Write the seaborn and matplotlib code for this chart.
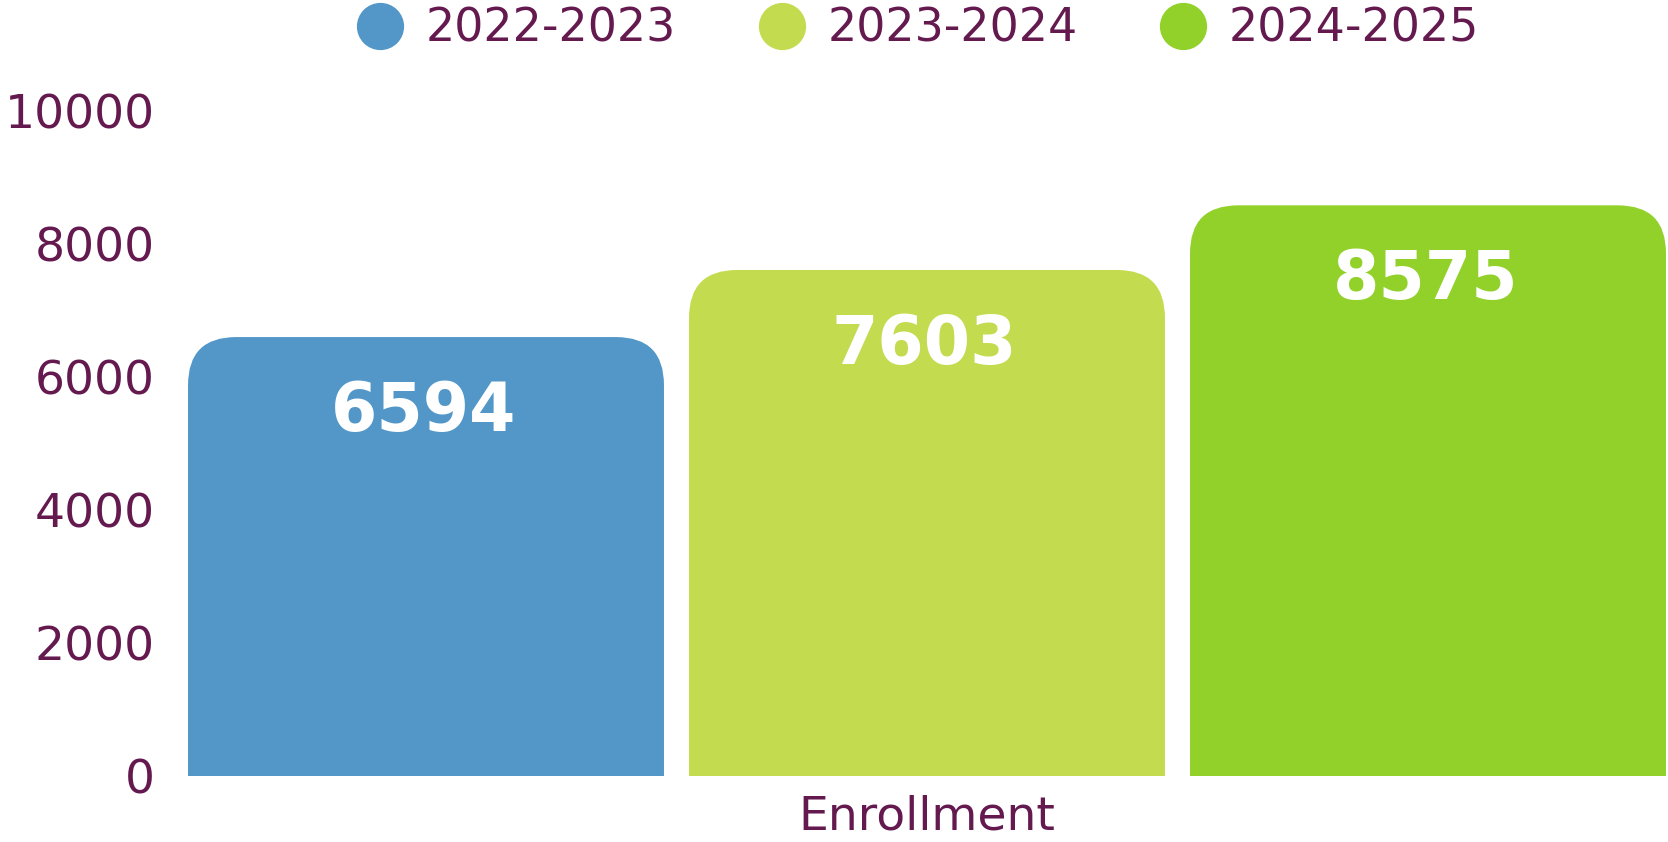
import pandas as pd
import numpy as np
import matplotlib
matplotlib.use("Agg")
import matplotlib.pyplot as plt
import seaborn as sns
from matplotlib.patches import FancyBboxPatch
from matplotlib.lines import Line2D

# data
years = ["2022-2023", "2023-2024", "2024-2025"]
enrollment = [6594, 7603, 8575]
metric = "Enrollment"
colors = ["#5297C8", "#C3DB4E", "#92D02A"]
text_color = "#641A4F"

df = pd.DataFrame({"metric": [metric] * 3, "year": years, "value": enrollment})

sns.set_style("white")
plt.rcParams['font.family'] = ['DejaVu Sans']

W, H = 1668, 842
fig = plt.figure(figsize=(W / 100, H / 100), dpi=100)

# axes placement in pixels
ax_left, ax_bottom, ax_top = 175.5, 775.5, 110.6
ax = fig.add_axes([ax_left / W, (H - ax_bottom) / H, (W - ax_left) / W, (ax_bottom - ax_top) / H])

sns.barplot(data=df, x="metric", y="value", hue="year", palette=colors,
            width=1.0, gap=0.05, ax=ax, legend=False, saturation=1)

x_right = -0.5 + (W - ax_left) / 1503.0
ax.set_xlim(-0.5, x_right)
ax.set_ylim(0, 10000)

# rounded top corners
x_per_px = (x_right + 0.5) / (W - ax_left)
y_per_px = 10000 / (ax_bottom - ax_top)
radius_px = 48
bars = list(ax.patches)
for p in bars:
    x0, w, h = p.get_x(), p.get_width(), p.get_height()
    fc = p.get_facecolor()
    p.remove()
    box = FancyBboxPatch((x0, -2000), w, h + 2000,
                         boxstyle=f"round,pad=0,rounding_size={radius_px * x_per_px}",
                         mutation_aspect=y_per_px / x_per_px,
                         facecolor=fc, edgecolor="none")
    ax.add_patch(box)
    ax.annotate(f"{int(h)}", (x0 + w / 2, h), xytext=(-2, -54), textcoords="offset points",
                ha="center", va="center", color="white", fontsize=48, fontweight="bold")

for s in ax.spines.values():
    s.set_visible(False)
ax.set_xlabel("")
ax.set_ylabel("")
ax.set_yticks([0, 2000, 4000, 6000, 8000, 10000])
ax.tick_params(axis="y", length=0, pad=15, labelsize=34, labelcolor=text_color)
ax.tick_params(axis="x", length=0, pad=14, labelsize=34, labelcolor=text_color)

handles = [Line2D([], [], marker="o", linestyle="none", markersize=34,
                  markerfacecolor=c, markeredgecolor="none") for c in colors]
fig.legend(handles, years, loc="center", bbox_to_anchor=(0.5505, 0.965), ncol=3,
           frameon=False, fontsize=33, labelcolor=text_color, handletextpad=0.5,
           columnspacing=1.8, handlelength=1.0)

fig.savefig("out.png", dpi=100)
